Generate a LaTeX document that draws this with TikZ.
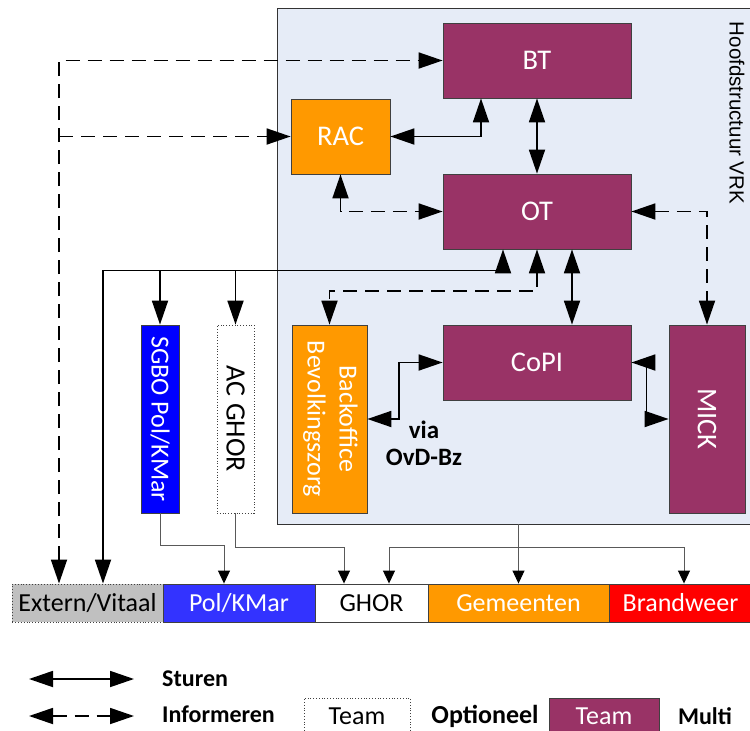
\documentclass[tikz,border=0pt]{standalone}
\usepackage{fontspec}
\usepackage{graphicx}
\setmainfont{Carlito}
\newfontfamily\arialf{Liberation Sans}
\usetikzlibrary{arrows.meta,calc}
\definecolor{vrkbg}{HTML}{E6ECF7}
\definecolor{multi}{HTML}{993366}
\definecolor{oranje}{HTML}{FF9900}
\definecolor{sgblue}{HTML}{0000FF}
\definecolor{polblue}{HTML}{3333FF}
\definecolor{extgray}{HTML}{C0C0C0}
\definecolor{rood}{HTML}{FF0000}
\begin{document}
\begin{tikzpicture}[x=1pt,y=-1pt,
  >={Triangle[length=24pt,width=16pt]},
  box/.style={draw=black!75, line width=0.8pt, inner sep=0pt, text=white,
    font=\fontsize{26}{30}\selectfont},
  bigtxt/.style={font=\fontsize{28.5}{32}\selectfont},
  multibox/.style={box, fill=multi},
  orangebox/.style={box, fill=oranje},
  barbox/.style={box, minimum height=38pt, line width=0.9pt},
  sturen/.style={line width=1.8pt, draw=black},
  info/.style={sturen, dash pattern=on 14pt off 8pt},
  thinarr/.style={draw=black!65, line width=1pt,
    -{Triangle[length=13pt,width=12pt,color=black]}},
  lbl/.style={font=\bfseries\fontsize{24}{27}\selectfont, inner sep=0pt}
]
\useasboundingbox (0,0) rectangle (750,731);

% main structure background
\node[draw=black!80, line width=0.9pt, fill=vrkbg, minimum width=483pt,
  minimum height=516pt, inner sep=0pt] (vrk) at (518.5,266) {};
\node[font=\arialf\fontsize{20.5}{23}\selectfont, inner sep=0pt] (hs) at (737,113)
  {\rotatebox{-90}{Hoofdstructuur VRK}};

% teams
\node[multibox, bigtxt, minimum width=188pt, minimum height=75pt] (bt) at (537,60.5) {BT};
\node[multibox, bigtxt, minimum width=188pt, minimum height=75pt] (ot) at (537,211.5) {OT};
\node[multibox, bigtxt, minimum width=188pt, minimum height=75pt] (copi) at (537,362.5) {CoPI};
\node[orangebox, bigtxt, minimum width=99pt, minimum height=75pt] (rac) at (340.5,136.5) {RAC};
\node[multibox, bigtxt, minimum width=76pt, minimum height=188pt] (mick) at (707,419)
  {\rotatebox{-90}{MICK}};
\node[orangebox, minimum width=75pt, minimum height=188pt] (bo) at (329.5,419)
  {\rotatebox{-90}{\begin{tabular}{@{}c@{}}Backoffice\\[2pt]Bevolkingszorg\end{tabular}}};
\node[box, fill=sgblue, minimum width=38pt, minimum height=188pt] (sgbo) at (160,419)
  {\rotatebox{-90}{SGBO Pol/KMar}};
\node[box, fill=white, text=black, dotted, font=\fontsize{28}{30}\selectfont,
  minimum width=37pt, minimum height=188pt] (acg) at (235.5,419) {\rotatebox{-90}{AC GHOR}};

% bottom bar
\node[barbox, fill=extgray, text=black, dotted, minimum width=151pt] (ext) at (87.5,603) {Extern/Vitaal};
\node[barbox, fill=polblue, minimum width=152pt] (pol) at (239,603) {Pol/KMar};
\node[barbox, fill=white, text=black, minimum width=113pt] (ghor) at (371.5,603) {GHOR};
\node[barbox, fill=oranje, minimum width=181pt] (gem) at (518.5,603) {Gemeenten};
\node[barbox, fill=rood, minimum width=143pt] (bw) at (680.5,603) {Brandweer};

% label
\node[lbl, font=\bfseries\fontsize{25}{27}\selectfont, align=center] (via) at (424,443) {via\\OvD-Bz};

% helper coordinates
\coordinate (e1) at ($(ext.north)+(-28.5,0)$);
\coordinate (e2) at ($(ext.north)+(15.5,0)$);
\coordinate (otb) at ($(ot.south)+(-34,0)$);
\coordinate (busR) at ($(ot.south)+(-34,21)$);
\coordinate (tj) at ($(vrk.south)+(0,23)$);

% informing (dashed)
\draw[info,<->] (e1) |- (bt.west);
\draw[info,->] (e1 |- rac.west) -- (rac.west);
\draw[info,<->] (rac.south) |- (ot.west);
\draw[info,<->] (ot.east) -| (mick.north);
\draw[info,<->] (ot.south) |- ($(bo.north)+(0,-34)$) -- (bo.north);

% steering (solid)
\draw[sturen,<->] (e2) |- (busR) -- (otb);
\draw[sturen,->] (sgbo.north |- busR) -- (sgbo.north);
\draw[sturen,->] (acg.north |- busR) -- (acg.north);
\draw[sturen,<->] (bt.south) -- (ot.north);
\draw[sturen,<->] (rac.east) -| ($(bt.south)+(-56,0)$);
\draw[sturen,<->] ($(ot.south)+(35,0)$) -- ($(copi.north)+(35,0)$);
\draw[sturen,<->] (copi.east) -- ++(15,0) |- (mick.west);
\draw[sturen,<->] (copi.west) -- ++(-44,0) |- (bo.east);

% thin connections to bar
\draw[thinarr] (sgbo.south) -- ++(0,32) -| ($(pol.north)+(-15,0)$);
\draw[thinarr] (acg.south) -- ++(0,34) -| ($(ghor.north)+(-27.5,0)$);
\draw[thinarr] (vrk.south) -- (gem.north);
\draw[thinarr] (tj) -| ($(ghor.north)+(17.5,0)$);
\draw[thinarr] (tj) -| ($(bw.north)+(3.5,0)$);

% legend
\coordinate (l1a) at (29,679);
\coordinate (l1b) at (134,679);
\coordinate (l2a) at (29,716);
\coordinate (l2b) at (134,716);
\draw[sturen,<->] (l1a) -- (l1b);
\draw[info,<->] (l2a) -- (l2b);
\node[lbl, anchor=west] (lst) at (162,679) {Sturen};
\node[lbl, anchor=west] (lin) at (162,714) {Informeren};
\node[box, fill=white, text=black, dotted, minimum width=106pt, minimum height=36pt] (lopt) at (357,716) {Team};
\node[lbl, font=\bfseries\fontsize{26}{28}\selectfont] (lopttxt) at (485,716) {Optioneel};
\node[multibox, minimum width=110pt, minimum height=36pt] (lmul) at (604,716) {Team};
\node[lbl] (lmultxt) at (705,716) {Multi};
\end{tikzpicture}
\end{document}
